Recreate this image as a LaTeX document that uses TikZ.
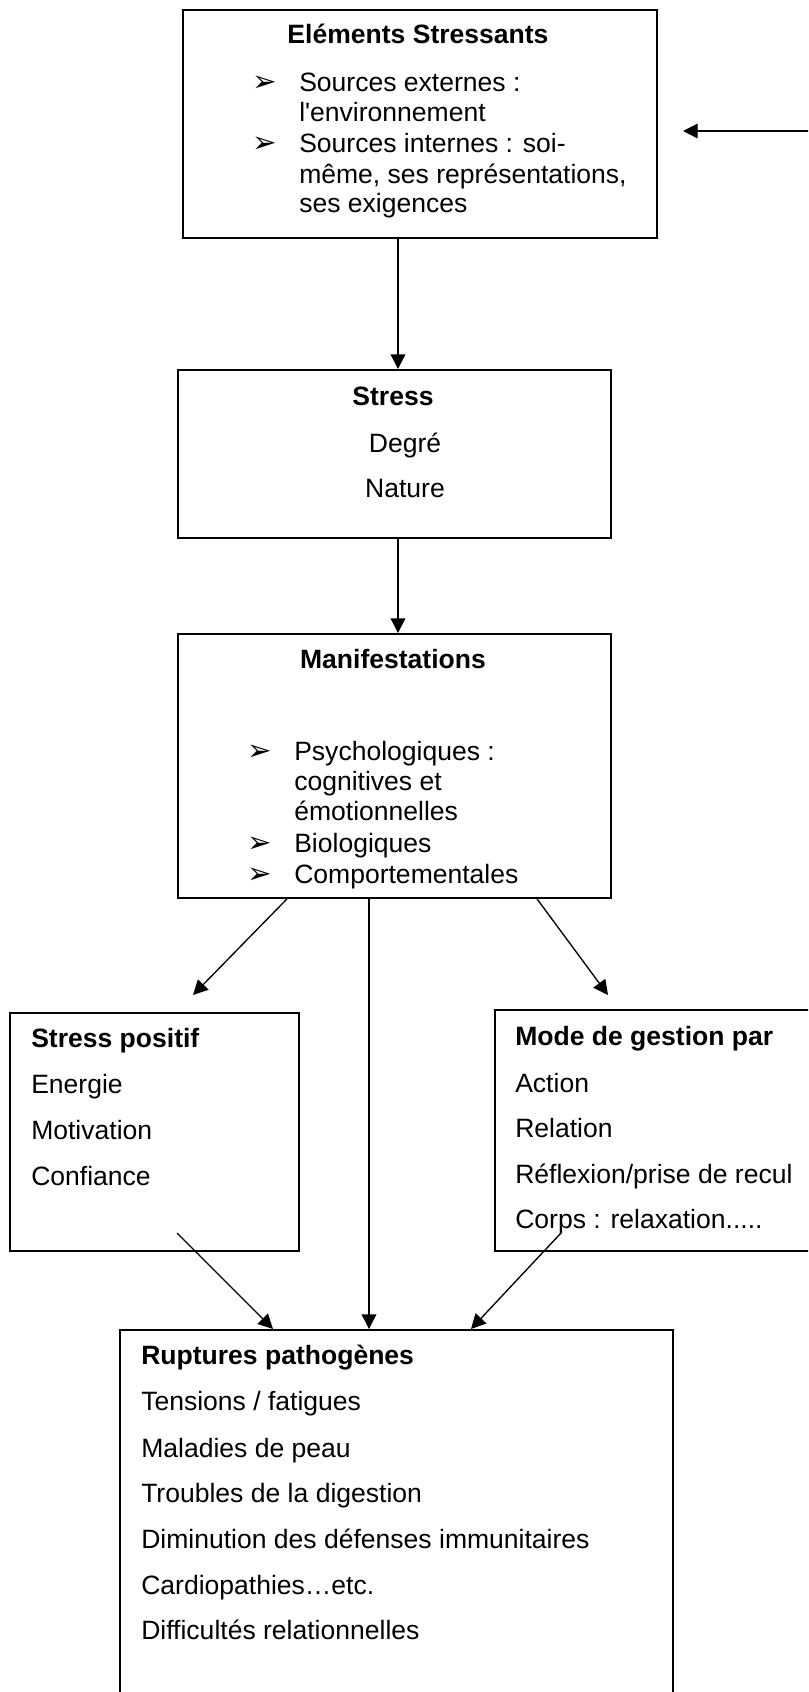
\documentclass[tikz,border=0pt]{standalone}
\usepackage{fontspec}
\setmainfont{Liberation Sans}[Ligatures=TeXOff]
\newfontfamily\dejavu{DejaVu Sans}
\usetikzlibrary{arrows.meta}
\newcommand\bodyfont{\fontsize{19.9}{23}\selectfont}
\newcommand\titlefont{\fontsize{19.9}{23}\selectfont\bfseries}

\begin{document}
\begin{tikzpicture}[x=0.75pt, y=-0.75pt,
  box/.style 2 args={draw, line width=1.4pt, anchor=north west, inner sep=0pt,
    minimum width=#1*0.75pt, minimum height=#2*0.75pt},
  txt/.style={anchor=base west, inner sep=0pt, font=\bodyfont},
  ctr/.style={anchor=base, inner sep=0pt, font=\bodyfont},
  ttl/.style={inner sep=0pt, font=\titlefont},
  bul/.style={anchor=base west, inner sep=0pt, font=\dejavu\fontsize{22}{22}\selectfont},
  arr/.style={line width=1pt, -{Triangle[length=11pt, width=11pt]}}]
  \useasboundingbox (0,0) rectangle (808,1692);
  \clip (0,0) rectangle (808,1692);
  % ---- the six boxes (pixel grid, y downwards) ----
  \node[box={474}{228}] (elem) at (182,9) {};
  \node[box={433}{168}] (stress) at (177,369) {};
  \node[box={433}{264}] (manif) at (177,633) {};
  \node[box={289}{238}] (positif) at (9,1012) {};
  \node[box={340}{241}] (gestion) at (494,1009) {};
  \node[box={553}{420}] (ruptures) at (119,1329) {};
  % ---- texts ----
  \node[ttl, anchor=base] (elem-t) at (418,43) {Eléments Stressants};
  \foreach \yy/\t [count=\i] in {91/{Sources externes :}, 121/{l'environnement},
    152/{Sources internes : soi-}, 183/{même, ses représentations,}, 212/{ses exigences}}
    \node[txt] (elem-\i) at (299,\yy) {\t};
  \foreach \yy [count=\i] in {91,152} \node[bul] (elem-b\i) at (252,\yy) {➢};
  \node[ttl, anchor=base] (stress-t) at (393,405) {Stress};
  \foreach \yy/\t [count=\i] in {452/Degré, 497/Nature}
    \node[ctr] (stress-\i) at (405,\yy) {\t};
  \node[ttl, anchor=base] (manif-t) at (393,668) {Manifestations};
  \foreach \yy/\t [count=\i] in {760/{Psychologiques :}, 790/{cognitives et},
    820/émotionnelles, 852/Biologiques, 883/Comportementales}
    \node[txt] (manif-\i) at (294,\yy) {\t};
  \foreach \yy [count=\i] in {760,852,883} \node[bul] (manif-b\i) at (247,\yy) {➢};
  \node[ttl, anchor=base west] (positif-t) at (31,1047) {Stress positif};
  \foreach \yy/\t [count=\i] in {1093/Energie, 1139/Motivation, 1185/Confiance}
    \node[txt] (positif-\i) at (31,\yy) {\t};
  \node[ttl, anchor=base west] (gestion-t) at (515,1045) {Mode de gestion par};
  \foreach \yy/\t [count=\i] in {1092/Action, 1137/Relation,
    1183/{Réflexion/prise de recul}, 1228/{Corps : relaxation.....}}
    \node[txt] (gestion-\i) at (515,\yy) {\t};
  \node[ttl, anchor=base west] (ruptures-t) at (141,1364) {Ruptures pathogènes};
  \foreach \yy/\t [count=\i] in {1410/{Tensions / fatigues}, 1457/{Maladies de peau},
    1502/{Troubles de la digestion}, 1548/{Diminution des défenses immunitaires},
    1594/{Cardiopathies…etc.}, 1639/{Difficultés relationnelles}}
    \node[txt] (ruptures-\i) at (141,\yy) {\t};
  % ---- connectors ----
  \coordinate (ext-from) at (812,131);
  \coordinate (ext-to) at (683,131);
  \draw[arr] (ext-from) -- (ext-to);
  \coordinate (xa) at (398,0);
  \draw[arr] (elem.south -| xa) -- (stress.north -| xa);
  \draw[arr] (stress.south -| xa) -- (manif.north -| xa);
  \coordinate (xm) at (369,0);
  \draw[arr] (manif.south -| xm) -- (ruptures.north -| xm);
  \coordinate (xl) at (287,0);
  \coordinate (xr) at (537,0);
  \coordinate (tip-l) at (193,995);
  \coordinate (tip-r) at (608,995);
  \draw[arr] (manif.south -| xl) -- (tip-l);
  \draw[arr] (manif.south -| xr) -- (tip-r);
  \coordinate (from-l) at (177,1233);
  \coordinate (from-r) at (561,1233);
  \coordinate (yl) at (273,0);
  \coordinate (yr) at (471,0);
  \draw[arr] (from-l) -- (ruptures.north -| yl);
  \draw[arr] (from-r) -- (ruptures.north -| yr);
\end{tikzpicture}
\end{document}
